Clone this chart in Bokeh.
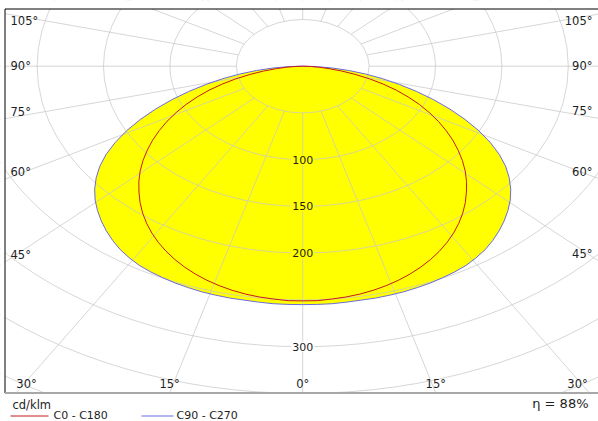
import math
import numpy as np
from bokeh.plotting import figure
from bokeh.models import Range1d, Label
from bokeh.core.properties import value
from bokeh.embed import file_html
from bokeh.resources import INLINE

# Luminous intensity (cd/klm) against gamma, measured from nadir
gamma_deg = [0, 2.5, 5, 7.5, 10, 12.5, 15, 17.5, 20, 22.5, 25, 27.5, 30, 32.5, 35, 37.5,
             40, 42.5, 45, 47.5, 50, 52.5, 55, 57.5, 60, 62.5, 65, 67.5, 70, 72.5, 75,
             77.5, 80, 82.5, 85, 87.5, 90]
c0_c180 = [251, 251, 250, 249, 247.5, 245.5, 243, 240, 236.5, 232.5, 228, 223, 217.5, 211.5,
           205, 198, 190.5, 182.5, 174.5, 166, 157, 147.5, 138, 128, 118, 107.5, 97, 86,
           75, 63.5, 52, 40.5, 30, 20, 12, 5, 0]
c90_c270 = [255, 255, 255, 254.5, 254, 254, 253.5, 253, 252, 251, 249.5, 248, 246, 243,
            239.5, 235, 230, 224.5, 218.5, 212, 204.5, 196, 186.5, 175.5, 163, 149.5, 135,
            120, 105, 90, 75.5, 61.5, 48, 35, 22.5, 11, 0]

ring_values = [50, 100, 150, 200, 250, 300, 350, 400, 450]
ring_labels = [100, 150, 200, 300]
spoke_angles = list(range(0, 360, 15))
side_angles = [45, 60, 75, 90, 105]
bottom_angles = [0, 15, 30]
unit_label = "cd/klm"
legend_names = ["C0 - C180", "C90 - C270"]
efficiency = 88

# page geometry
W, H = 598, 421
CX, CY = 302.2, 65.7      # pole of the diagram, px
SX, SY = 1.328, 0.935     # px per cd/klm, horizontal / vertical
SPOKE_X = 1.07            # horizontal spread of the angle spokes
BOX_L, BOX_T, BOX_B = 4.5, 8.5, 392.5

FONT = value("DejaVu Sans")
INK = "#1e1e1e"
GRID = "#c8c8c8"
YELLOW = "#ffff00"
RED = "#c41c1c"
BLUE = "#6a6ae0"


def ux(px):
    return (px - CX) / SX


def uy(py):
    return (CY - py) / SY


p = figure(width=W, height=H,
           x_range=Range1d(ux(0), ux(W)), y_range=Range1d(uy(H), uy(0)),
           output_backend="svg", toolbar_location=None,
           x_axis_location=None, y_axis_location=None,
           min_border=0, outline_line_color=None,
           background_fill_color="white", border_fill_color="white")
p.xgrid.visible = False
p.ygrid.visible = False


def outline(vals):
    g = np.radians(gamma_deg)
    v = np.asarray(vals, dtype=float)
    xl, yl = -(v * np.sin(g))[::-1], -(v * np.cos(g))[::-1]
    xr, yr = (v * np.sin(g))[1:], -(v * np.cos(g))[1:]
    return np.concatenate([xl, xr]), np.concatenate([yl, yr])


# lit area
fill_vals = [max(a, b) for a, b in zip(c0_c180, c90_c270)]
fx, fy = outline(fill_vals)
p.patch(fx, fy, fill_color=YELLOW, line_color=None)

# polar grid: rings and spokes
p.ellipse(x=0, y=0, width=[2 * r for r in ring_values], height=[2 * r for r in ring_values],
          fill_color=None, line_color=GRID, line_alpha=0.75, line_width=1)


def spoke_dir(a):
    g = math.radians(a)
    ga = math.atan2(SPOKE_X * math.sin(g), math.cos(g))
    return math.sin(ga), math.cos(ga)


x0s, y0s, x1s, y1s = [], [], [], []
r_in = ring_values[0]
for a in spoke_angles:
    s, c = spoke_dir(a)
    x0s.append(-r_in * s); y0s.append(-r_in * c)
    x1s.append(-900 * s); y1s.append(-900 * c)
p.segment(x0s, y0s, x1s, y1s, line_color=GRID, line_alpha=0.75, line_width=1)

# intensity curves
rx, ry = outline(c0_c180)
bx, by = outline(c90_c270)
p.line(bx, by, line_color=BLUE, line_width=1)
p.line(rx, ry, line_color=RED, line_width=1)

# ring values along the nadir
inside = max(c0_c180[0], c90_c270[0])
for r in ring_labels:
    p.add_layout(Label(x=0, y=-r, text=str(r), text_align="center", text_baseline="middle",
                       text_font="DejaVu Sans", text_font_size="11px", text_color=INK,
                       background_fill_color=YELLOW if r < inside else "white",
                       padding=1))

# mask outside the diagram box
p.quad(left=[ux(0), ux(0), ux(0)], right=[ux(BOX_L), ux(W), ux(W)],
       bottom=[uy(H), uy(BOX_T), uy(H)], top=[uy(0), uy(0), uy(BOX_B)],
       fill_color="white", line_color=None)

# box border
p.segment([ux(BOX_L), ux(BOX_L)], [uy(BOX_B), uy(BOX_T)], [ux(BOX_L), ux(W)], [uy(BOX_T), uy(BOX_T)],
          line_color="black", line_width=1)
p.segment([ux(BOX_L)], [uy(BOX_B)], [ux(W)], [uy(BOX_B)], line_color="#a8a8a8", line_width=2)

# angle labels on both sides, where each spoke meets the box edge
xl_edge, xr_edge = ux(BOX_L), ux(W)
for a in side_angles:
    s, c = spoke_dir(a)
    base = "bottom" if a < 90 else ("middle" if a == 90 else "top")
    for x_edge, x_txt, align in ((xl_edge, ux(10), "left"), (xr_edge, ux(592), "right")):
        y = -c * abs(x_edge) / s
        p.text([x_txt], [y], text=[f"{a}\u00b0"], text_align=align, text_baseline=base,
               text_font=FONT, text_font_size="11.5px", text_color=INK)

# angle labels along the bottom edge
yb = uy(BOX_B)
for a in bottom_angles:
    s, c = spoke_dir(a)
    xe = abs(yb) * s / c
    for sign in ([1] if a == 0 else [-1, 1]):
        xpx = CX + sign * xe * SX
        xpx = min(max(xpx, 26), 577)
        p.text([ux(xpx)], [uy(383.5)], text=[f"{a}\u00b0"], text_align="center",
               text_baseline="middle", text_font=FONT, text_font_size="11.5px", text_color=INK)

# caption and legend
p.text([ux(12)], [uy(404.5)], text=[unit_label], text_align="left", text_baseline="middle",
       text_font=FONT, text_font_size="11.5px", text_color=INK)
p.segment([ux(10), ux(141)], [uy(415.5)] * 2, [ux(48), ux(173)], [uy(415.5)] * 2,
          line_color=[RED, BLUE], line_width=1)
p.text([ux(53), ux(176)], [uy(415)] * 2, text=legend_names, text_align="left",
       text_baseline="middle", text_font=FONT, text_font_size="11px", text_color=INK)
p.text([ux(588)], [uy(403)], text=[f"\u03b7 = {efficiency}%"], text_align="right",
       text_baseline="middle", text_font=FONT, text_font_size="13px", text_color=INK)

open("out.html", "w").write(file_html(p, INLINE))
